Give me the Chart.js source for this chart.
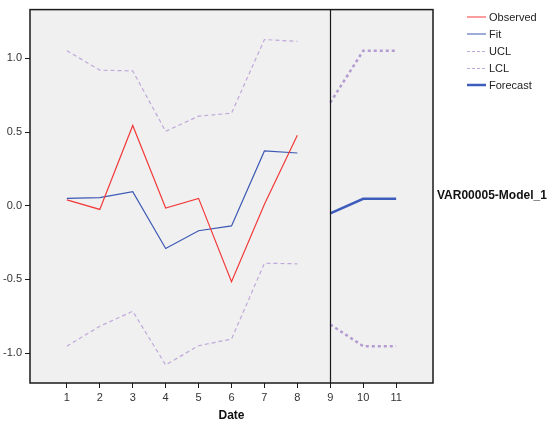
<!DOCTYPE html>
<html>
<head>
<meta charset="utf-8">
<script src="https://cdn.jsdelivr.net/npm/chart.js@4.4.0/dist/chart.umd.min.js"></script>
<style>
  html, body { margin: 0; padding: 0; background: #fff; }
  #wrap { width: 554px; height: 423px; position: relative; }
</style>
</head>
<body>
<div id="wrap"><canvas id="c" width="554" height="423"></canvas></div>
<script>
// Data
const histDates = [1, 2, 3, 4, 5, 6, 7, 8];
const observed = [0.04, -0.025, 0.545, -0.016, 0.05, -0.515, 0.01, 0.478];
const fit = [0.05, 0.055, 0.095, -0.29, -0.17, -0.137, 0.372, 0.358];
const ucl = [1.052, 0.92, 0.915, 0.505, 0.608, 0.628, 1.128, 1.115];
const lcl = [-0.953, -0.818, -0.716, -1.08, -0.95, -0.905, -0.39, -0.394];
const fcDates = [9, 10, 11];
const forecast = [-0.052, 0.047, 0.047];
const fcUcl = [0.70, 1.052, 1.052];
const fcLcl = [-0.806, -0.953, -0.953];
const xTicks = [1, 2, 3, 4, 5, 6, 7, 8, 9, 10, 11];
const yTicks = [-1.0, -0.5, 0.0, 0.5, 1.0];
const forecastStart = 9;
const modelLabel = 'VAR00005-Model_1';
const legendLabels = ['Observed', 'Fit', 'UCL', 'LCL', 'Forecast'];

const pts = (xs, ys) => xs.map((x, i) => ({ x: x, y: ys[i] }));

const FONT = '"Liberation Sans", Arial, sans-serif';
const RED = '#f23a3a';
const BLUE = '#3c58b4';
const LAV = '#bfa8da';
const FLAV = '#b49bd2';
const FBLUE = '#3d5cbc';

const legendStyles = [
  { color: RED, width: 1, dash: [] },
  { color: BLUE, width: 1, dash: [] },
  { color: LAV, width: 1, dash: [3, 2] },
  { color: LAV, width: 1, dash: [3, 2] },
  { color: FBLUE, width: 2.5, dash: [] }
];

const framePlugin = {
  id: 'frame',
  beforeDatasetsDraw(chart) {
    const a = chart.chartArea, ctx = chart.ctx;
    ctx.save();
    ctx.fillStyle = '#f0f0f0';
    ctx.fillRect(a.left, a.top, a.right - a.left, a.bottom - a.top);
    ctx.restore();
  },
  afterDatasetsDraw(chart) {
    const a = chart.chartArea, ctx = chart.ctx;
    const xs = chart.scales.x;
    ctx.save();
    // forecast start line
    const px = Math.round(xs.getPixelForValue(forecastStart)) + 0.5;
    ctx.strokeStyle = '#1a1a1a';
    ctx.lineWidth = 1.2;
    ctx.beginPath();
    ctx.moveTo(px, a.top);
    ctx.lineTo(px, a.bottom);
    ctx.stroke();
    // frame
    ctx.strokeStyle = '#1a1a1a';
    ctx.lineWidth = 1.5;
    ctx.strokeRect(a.left, a.top, a.right - a.left, a.bottom - a.top);
    // legend
    ctx.font = '11px ' + FONT;
    ctx.textBaseline = 'middle';
    ctx.textAlign = 'left';
    const lx0 = 467, lx1 = 486, tx = 489;
    const rows = [17, 34, 51.5, 68.5, 85];
    legendLabels.forEach((lab, i) => {
      const s = legendStyles[i];
      ctx.strokeStyle = s.color;
      ctx.lineWidth = s.width;
      ctx.setLineDash(s.dash);
      ctx.beginPath();
      ctx.moveTo(lx0, rows[i]);
      ctx.lineTo(lx1, rows[i]);
      ctx.stroke();
      ctx.setLineDash([]);
      ctx.fillStyle = '#222';
      ctx.fillText(lab, tx, rows[i] + 0.5);
    });
    // model label
    ctx.font = 'bold 12px ' + FONT;
    ctx.fillStyle = '#111';
    ctx.fillText(modelLabel, 437, 196);
    ctx.restore();
  }
};

new Chart(document.getElementById('c'), {
  type: 'line',
  data: {
    datasets: [
      { label: 'Observed', data: pts(histDates, observed), borderColor: RED, borderWidth: 1.2 },
      { label: 'Fit', data: pts(histDates, fit), borderColor: BLUE, borderWidth: 1.2 },
      { label: 'UCL', data: pts(histDates, ucl), borderColor: LAV, borderWidth: 1.2, borderDash: [4, 3] },
      { label: 'LCL', data: pts(histDates, lcl), borderColor: LAV, borderWidth: 1.2, borderDash: [4, 3] },
      { label: 'Forecast', data: pts(fcDates, forecast), borderColor: FBLUE, borderWidth: 2.5 },
      { label: 'UCL forecast', data: pts(fcDates, fcUcl), borderColor: FLAV, borderWidth: 2.5, borderDash: [3, 3] },
      { label: 'LCL forecast', data: pts(fcDates, fcLcl), borderColor: FLAV, borderWidth: 2.5, borderDash: [3, 3] }
    ]
  },
  options: {
    responsive: false,
    animation: false,
    devicePixelRatio: 1,
    layout: { padding: { top: 7, right: 121, left: 0, bottom: 0 } },
    elements: { point: { radius: 0 }, line: { tension: 0, fill: false } },
    plugins: { legend: { display: false }, tooltip: { enabled: false } },
    scales: {
      x: {
        type: 'linear',
        min: -0.12,
        max: 12.12,
        afterBuildTicks(s) { s.ticks = xTicks.map(v => ({ value: v })); },
        afterFit(s) { s.height = 40; },
        grid: { drawOnChartArea: false, drawTicks: true, tickLength: 5, color: '#1a1a1a', lineWidth: 1 },
        border: { display: false },
        ticks: { font: { family: FONT, size: 11 }, color: '#333', padding: 3, maxRotation: 0, autoSkip: false },
        title: { display: true, text: 'Date', font: { family: FONT, size: 12, weight: 'bold' }, color: '#111', padding: { top: 2, bottom: 0 } }
      },
      y: {
        type: 'linear',
        min: -1.203,
        max: 1.331,
        afterBuildTicks(s) { s.ticks = yTicks.map(v => ({ value: v })); },
        afterFit(s) { s.width = 30; },
        grid: { drawOnChartArea: false, drawTicks: true, tickLength: 5, color: '#1a1a1a', lineWidth: 1 },
        border: { display: false },
        ticks: { font: { family: FONT, size: 11 }, color: '#333', padding: 3, callback: v => Number(v).toFixed(1) }
      }
    }
  },
  plugins: [framePlugin]
});
</script>
</body>
</html>
